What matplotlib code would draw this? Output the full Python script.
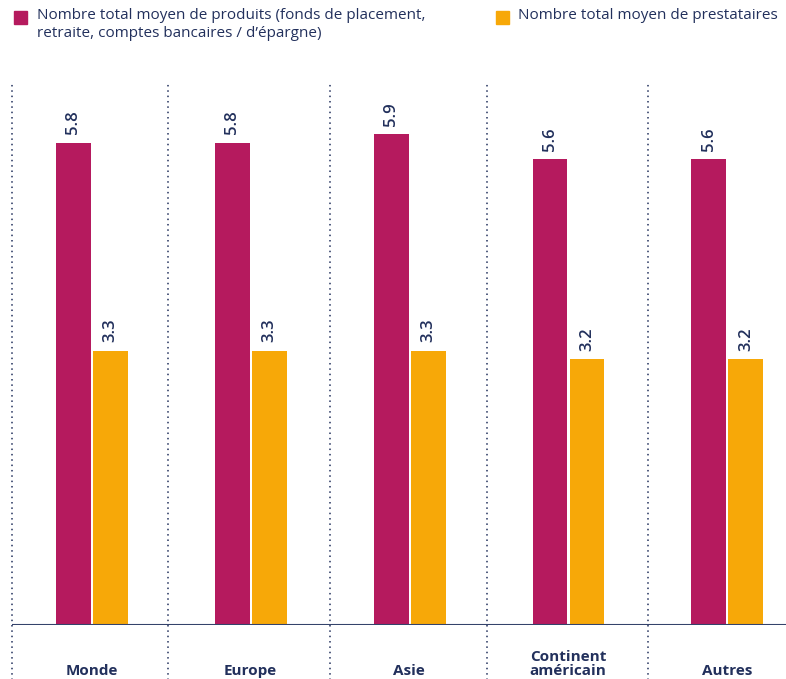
import numpy as np
import matplotlib.pyplot as plt
from matplotlib.patches import Rectangle

regions = ['Monde', 'Europe', 'Asie', 'Continent\naméricain', 'Autres']
produits = [5.8, 5.8, 5.9, 5.6, 5.6]
prestataires = [3.3, 3.3, 3.3, 3.2, 3.2]
labels_series = ['Nombre total moyen de produits (fonds de placement,\nretraite, comptes bancaires / d\u2019épargne)',
                 'Nombre total moyen de prestataires']

magenta = '#B51A5E'
orange = '#F7A808'
navy = '#22305C'

plt.rcParams['font.family'] = ['Open Sans', 'DejaVu Sans']

fig = plt.figure(figsize=(7.86, 6.79), dpi=100)
ax = fig.add_axes([12 / 786, 54 / 679, 774 / 786, 543 / 679])

x = np.arange(len(regions))
w = 0.22
b1 = ax.bar(x - 0.115, produits, w, color=magenta)
b2 = ax.bar(x + 0.118, prestataires, w, color=orange)

for bars, vals in [(b1, produits), (b2, prestataires)]:
    for rect, v in zip(bars, vals):
        ax.text(rect.get_x() + rect.get_width() / 2, v + 0.1, f'{v:.1f}',
                rotation=90, ha='center', va='bottom', color=navy, fontsize=12,
                fontweight='semibold')

ax.set_xlim(-0.5, 4.37)
ax.set_ylim(0, 6.53)

# dotted separators running down past the axis
for s in [-0.5, 0.48, 1.5, 2.49, 3.5]:
    ax.plot([s, s], [-0.66, 6.53], color=navy, lw=1.1, ls=(0, (1, 2.5)),
            clip_on=False)

ax.axhline(0, color='#34436B', lw=1.5)

for xi, r in zip(x, regions):
    ax.text(xi, -0.64, r, ha='center', va='bottom', color=navy, fontsize=11,
            fontweight='bold', linespacing=1.0)

for s in ['top', 'right', 'left', 'bottom']:
    ax.spines[s].set_visible(False)
ax.set_xticks([])
ax.set_yticks([])

# legend
fig.patches.append(Rectangle((14 / 786, 1 - 24 / 679), 13 / 786, 13 / 679,
                             transform=fig.transFigure, color=magenta))
fig.text(37 / 786, 1 - 8 / 679, labels_series[0], ha='left', va='top',
         color=navy, fontsize=11, linespacing=1.3)
fig.patches.append(Rectangle((496 / 786, 1 - 24 / 679), 13 / 786, 13 / 679,
                             transform=fig.transFigure, color=orange))
fig.text(518 / 786, 1 - 8 / 679, labels_series[1], ha='left', va='top',
         color=navy, fontsize=11)

fig.savefig('out.png', dpi=100)
